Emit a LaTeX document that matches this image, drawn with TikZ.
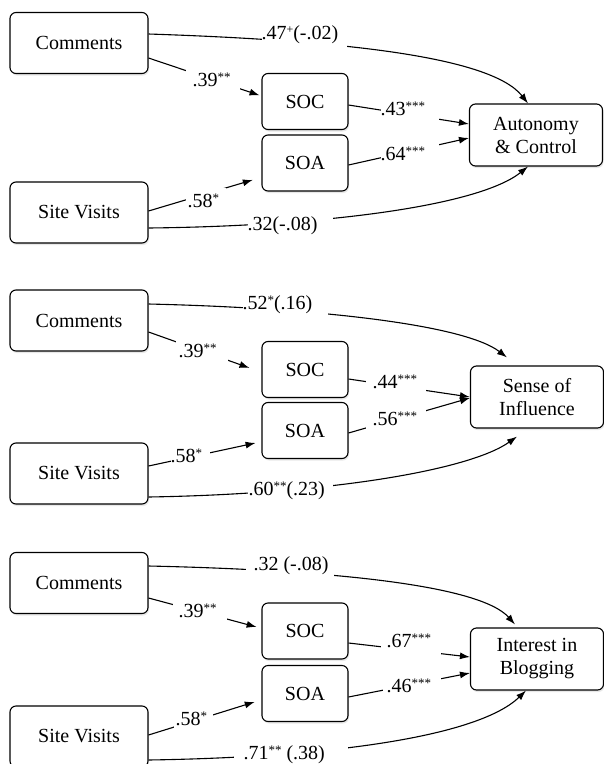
\documentclass[tikz,border=0pt]{standalone}
\usepackage{fontspec}
\setmainfont{Liberation Serif}
\usetikzlibrary{arrows.meta,calc,shadows}
\newcommand{\sg}[1]{\raisebox{5pt}{\fontsize{13}{13}\selectfont #1}}
\newcommand{\pls}{\raisebox{6pt}{\fontsize{12}{12}\selectfont +}}
\begin{document}
\begin{tikzpicture}[x=1pt,y=-1pt,line width=1.1pt,
  box/.style={draw, rounded corners=6pt, fill=white, align=center, inner sep=0pt,
    font=\fontsize{20}{23}\selectfont,
    drop shadow={shadow xshift=1pt, shadow yshift=-2pt, opacity=0.18}},
  big/.style={box, minimum width=138pt, minimum height=61pt},
  mid/.style={box, minimum width=86pt, minimum height=56pt},
  res/.style={box, minimum width=133pt, minimum height=62pt},
  lbl/.style={fill=white, anchor=west, inner xsep=0pt, inner ysep=5pt,
    text height=14pt, text depth=4pt, font=\fontsize{20}{24}\selectfont},
  arr/.style={-{Latex[length=10pt,width=7pt]}}]
\useasboundingbox (0,0) rectangle (604,764);

% ---------- panel 1 ----------
\node[big] (C1) at (79,43) {Comments};
\node[big] (S1) at (79,212.5) {Site Visits};
\node[mid] (SOC1) at (305,101.5) {SOC};
\node[mid] (SOA1) at (305,163) {SOA};
\node[res] (A1) at (536,135) {Autonomy\\\& Control};

\draw[arr] ($(C1.east)+(0,-9)$) .. controls (330,40) and (490,55) .. ($(A1.north)+(-8,0)$);
\draw[arr, shorten >=2pt] ($(C1.east)+(0,15)$) -- ($(SOC1.west)+(0,-5.5)$);
\draw[arr] ($(SOC1.east)+(0,3.5)$) -- ($(A1.west)+(0,-11)$);
\draw[arr] ($(SOA1.east)+(0,2)$) -- ($(A1.west)+(0,3)$);
\draw[arr, shorten >=9pt] ($(S1.east)+(0,-1.5)$) -- ($(SOA1.west)+(0,14.3)$);
\draw[arr] ($(S1.east)+(0,15.5)$) .. controls (330,226) and (480,205) .. ($(A1.south)+(-8,0)$);

\node[lbl] (l1a) at (261,34) {.47\pls(-.02)\hspace*{9pt}};
\node[lbl] (l1b) at (185,81) {\hspace*{7pt}.39\sg{**}\hspace*{9pt}};
\node[lbl] (l1c) at (380,110) {.43\sg{***}\hspace*{14pt}};
\node[lbl] (l1d) at (380,155) {.64\sg{***}\hspace*{14pt}};
\node[lbl] (l1e) at (185,202) {\hspace*{2pt}.58\sg{*}\hspace*{7pt}};
\node[lbl] (l1f) at (247,225) {.32(-.08)\hspace*{15pt}};

% ---------- panel 2 ----------
\node[big] (C2) at (79,320.5) {Comments};
\node[big] (S2) at (79,473.5) {Site Visits};
\node[mid] (SOC2) at (305,369.5) {SOC};
\node[mid] (SOA2) at (305,430.5) {SOA};
\node[res] (B2) at (537,397) {Sense of\\Influence};

\draw[arr] ($(C2.east)+(0,-16.5)$) .. controls (320,308) and (465,325) .. ($(B2.north)+(-30,-8)$);
\draw[arr, shorten >=12.7pt] ($(C2.east)+(0,11.5)$) -- ($(SOC2.west)+(0,2.7)$);
\draw[arr] ($(SOC2.east)+(0,9.5)$) -- ($(B2.west)+(0,0)$);
\draw[arr] ($(SOA2.east)+(0,2.5)$) -- ($(B2.west)+(0,1)$);
\draw[arr, shorten >=6pt] ($(S2.east)+(0,-7.5)$) -- ($(SOA2.west)+(0,11.2)$);
\draw[arr] ($(S2.east)+(0,23.5)$) .. controls (330,494) and (470,470) .. ($(B2.south)+(-20,8)$);

\node[lbl] (l2a) at (242,304) {.52\sg{*}(.16)\hspace*{16pt}};
\node[lbl] (l2b) at (175,352) {\hspace*{3pt}.39\sg{**}\hspace*{11pt}};
\node[lbl] (l2c) at (365,383) {\hspace*{7pt}.44\sg{***}\hspace*{9pt}};
\node[lbl] (l2d) at (365,420) {\hspace*{7pt}.56\sg{***}\hspace*{9pt}};
\node[lbl] (l2e) at (170,457) {.58\sg{*}\hspace*{8pt}};
\node[lbl] (l2f) at (247,490) {\hspace*{1pt}.60\sg{**}(.23)\hspace*{8pt}};

% ---------- panel 3 ----------
\node[big] (C3) at (79,583) {Comments};
\node[big] (S3) at (79,736.5) {Site Visits};
\node[mid] (SOC3) at (305,631) {SOC};
\node[mid] (SOA3) at (305,693.5) {SOA};
\node[res] (I3) at (537,659) {Interest in\\Blogging};

\draw[arr] ($(C3.east)+(0,-17)$) .. controls (330,570) and (480,585) .. ($(I3.north)+(-22,-3)$);
\draw[arr, shorten >=5pt] ($(C3.east)+(0,15)$) -- ($(SOC3.west)+(0,-2.7)$);
\draw[arr] ($(SOC3.east)+(0,12)$) -- ($(I3.west)+(0,-2)$);
\draw[arr] ($(SOA3.east)+(0,3.5)$) -- ($(I3.west)+(0,14)$);
\draw[arr, shorten >=7pt] ($(S3.east)+(0,-1.5)$) -- ($(SOA3.west)+(0,6.3)$);
\draw[arr] ($(S3.east)+(0,23.5)$) .. controls (340,757) and (480,735) .. ($(I3.south)+(-11,0)$);

\node[lbl] (l3a) at (245,565) {\hspace*{8pt}.32 (-.08)\hspace*{5pt}};
\node[lbl] (l3b) at (172,612) {\hspace*{6pt}.39\sg{**}\hspace*{10pt}};
\node[lbl] (l3c) at (380,642) {\hspace*{6pt}.67\sg{***}\hspace*{10pt}};
\node[lbl] (l3d) at (382,687) {\hspace*{4pt}.46\sg{***}\hspace*{10pt}};
\node[lbl] (l3e) at (173,720) {\hspace*{2pt}.58\sg{*}\hspace*{6pt}};
\node[lbl] (l3f) at (233,754) {\hspace*{10pt}.71\sg{**} (.38)\hspace*{23pt}};
\end{tikzpicture}
\end{document}
